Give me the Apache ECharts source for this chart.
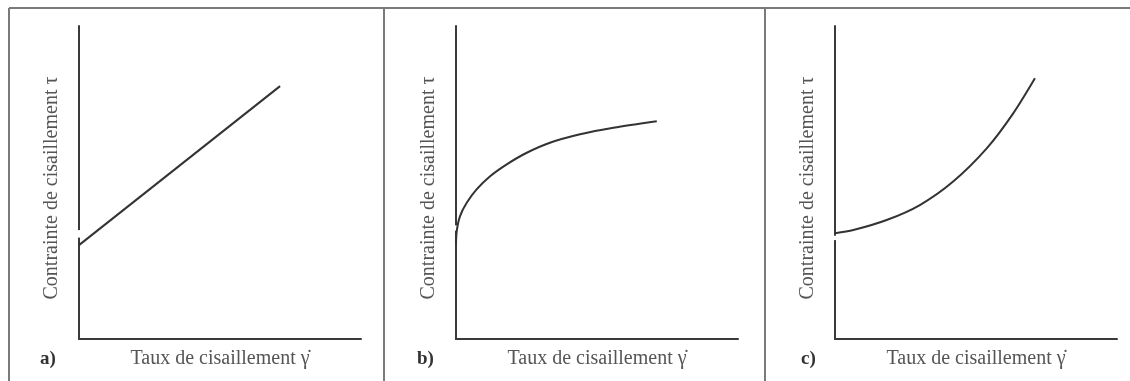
<!DOCTYPE html>
<html><head><meta charset="utf-8">
<script src="https://cdn.jsdelivr.net/npm/echarts@6/dist/echarts.min.js"></script>
<style>html,body{margin:0;padding:0;background:#fff}#c{width:1130px;height:381px}</style>
</head><body><div id="c"></div>
<script>
// Panel labels and axis titles
const panelLabels = ['a)', 'b)', 'c)'];
const xTitle = 'Taux de cisaillement \u03B3\u0307';
const yTitle = 'Contrainte de cisaillement \u03C4';

// Curves (x: shear rate, y: shear stress), arbitrary units 0–100
const curveA = [[0, 30.0], [71.3, 80.8]];
const curveB = [[0, 30.1], [0.25, 34.4], [1.4, 39.2], [3.8, 43.5], [7.3, 47.8], [12.1, 52.0], [18.0, 55.8], [25.1, 59.5], [33.3, 62.7], [44.0, 65.4], [55.8, 67.5], [71.2, 69.6]];
const curveC = [[0, 33.8], [6.5, 34.8], [18.3, 38.0], [30.1, 42.8], [41.9, 50.3], [53.8, 60.9], [63.2, 72.1], [70.9, 83.3]];
// small breaks in the stress axis
const gapA = [[0, 32.4], [0, 34.8]];
const gapB = [[0, 34.6], [0, 36.3]];
const gapC = [[0, 31.6], [0, 33.0]];

const curves = [curveA, curveB, curveC];
const gaps = [gapA, gapB, gapC];
const grids = [
  {left: 79, top: 26, width: 282, height: 313},
  {left: 456, top: 26, width: 282, height: 313},
  {left: 835, top: 26, width: 282, height: 313}
];
const font = '"Liberation Serif", "DejaVu Serif", serif';
const axisColor = '#3a3a3a';

const xAxis = [], yAxis = [], series = [];
grids.forEach((g, i) => {
  xAxis.push({
    type: 'value', gridIndex: i, min: 0, max: 100,
    axisLine: {show: true, lineStyle: {color: axisColor, width: 2}},
    axisTick: {show: false}, axisLabel: {show: false}, splitLine: {show: false},
    name: xTitle, nameLocation: 'middle', nameGap: 10,
    nameTextStyle: {fontFamily: font, fontSize: 20, color: '#555'}
  });
  yAxis.push({
    type: 'value', gridIndex: i, min: 0, max: 100,
    axisLine: {show: true, lineStyle: {color: axisColor, width: 2}},
    axisTick: {show: false}, axisLabel: {show: false}, splitLine: {show: false},
    name: yTitle, nameLocation: 'middle', nameGap: 17,
    nameTextStyle: {fontFamily: font, fontSize: 20, color: '#555', padding: [0, 11, 0, 0]}
  });
  series.push({
    type: 'line', xAxisIndex: i, yAxisIndex: i, data: gaps[i], symbol: 'none',
    lineStyle: {color: '#ffffff', width: 4}, z: 3, silent: true
  });
  series.push({
    type: 'line', xAxisIndex: i, yAxisIndex: i, data: curves[i], symbol: 'none',
    smooth: i > 0 ? 0.3 : false,
    lineStyle: {color: '#333', width: 2}, z: 4, silent: true
  });
});

const frameColor = '#7a7a7a';
const graphic = [
  {type: 'line', shape: {x1: 9, y1: 8, x2: 1130, y2: 8}, style: {stroke: frameColor, lineWidth: 2}},
  {type: 'line', shape: {x1: 9, y1: 8, x2: 9, y2: 381}, style: {stroke: frameColor, lineWidth: 2}},
  {type: 'line', shape: {x1: 384, y1: 8, x2: 384, y2: 381}, style: {stroke: frameColor, lineWidth: 2}},
  {type: 'line', shape: {x1: 765, y1: 8, x2: 765, y2: 381}, style: {stroke: frameColor, lineWidth: 2}}
];
const labelX = [40, 417, 801];
panelLabels.forEach((t, i) => {
  graphic.push({type: 'text', left: labelX[i], top: 350,
    style: {text: t, font: 'bold 19px ' + font, fill: '#333'}});
});

const chart = echarts.init(document.getElementById('c'), null, {renderer: 'canvas'});
chart.setOption({
  backgroundColor: '#ffffff',
  animation: false,
  grid: grids,
  xAxis: xAxis,
  yAxis: yAxis,
  series: series,
  graphic: graphic
});
</script>
</body></html>
